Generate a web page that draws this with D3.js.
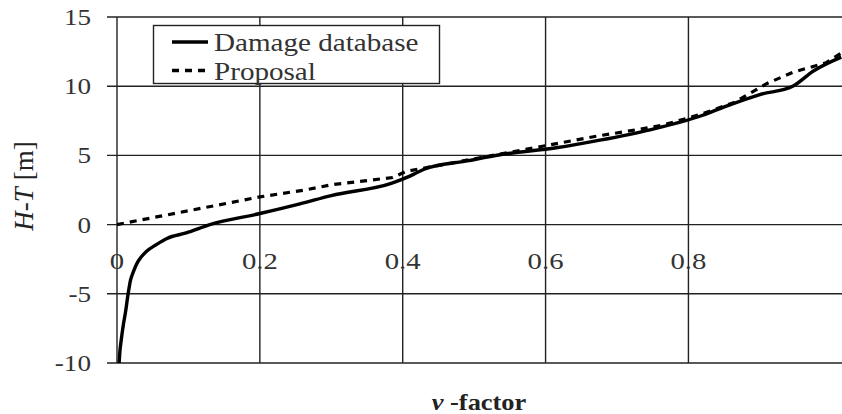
<!DOCTYPE html>
<html>
<head>
<meta charset="utf-8">
<script src="https://cdn.jsdelivr.net/npm/d3@7"></script>
<style>
  html, body { margin: 0; padding: 0; background: #fff; }
</style>
</head>
<body>
<svg id="chart" width="842" height="414"></svg>
<script>
// Data
const damageV = [0.003, 0.004, 0.006, 0.009, 0.012, 0.015, 0.019, 0.023, 0.027, 0.033, 0.041, 0.055, 0.07, 0.097, 0.13,
  0.2, 0.256, 0.3, 0.385, 0.41, 0.43, 0.49, 0.536, 0.615, 0.676, 0.746, 0.82, 0.855, 0.9, 0.946, 0.975, 1.014];
const damageH = [-10, -9.2, -8.3, -7.2, -6.3, -5.2, -4.0, -3.4, -2.9, -2.4, -1.95, -1.45, -1.0, -0.6, 0,
  0.8, 1.5, 2.1, 3.0, 3.5, 4.0, 4.6, 5.05, 5.55, 6.1, 6.85, 7.9, 8.6, 9.4, 10.0, 11.1, 12.1];

const proposalV = [0, 0.1, 0.2, 0.263, 0.303, 0.386, 0.405, 0.5, 0.6, 0.667, 0.727, 0.765, 0.816, 0.863, 0.91, 0.946, 0.993, 1.014];
const proposalH = [0, 1.0, 2.0, 2.5, 2.9, 3.4, 3.85, 4.75, 5.7, 6.35, 6.85, 7.2, 7.95, 8.8, 10.2, 11.0, 11.7, 12.4];

const xTicks = [0, 0.2, 0.4, 0.6, 0.8];
const yTicks = [-10, -5, 0, 5, 10, 15];
const seriesNames = ["Damage database", "Proposal"];

const svg = d3.select("#chart");
const margin = { top: 17, right: 0, bottom: 51, left: 117 };
const W = 842, H = 414;
const serif = "'Liberation Serif', 'Times New Roman', Times, Tinos, 'Noto Serif', 'DejaVu Serif', serif";

const x = d3.scaleLinear().domain([0, 1.015]).range([margin.left, W - margin.right]);
const y = d3.scaleLinear().domain([-10, 15]).range([H - margin.bottom, margin.top]);

const gridColor = "#222";

// horizontal grid lines with small tick stubs on the left
svg.append("g")
  .selectAll("line")
  .data(yTicks)
  .enter()
  .append("line")
  .attr("x1", margin.left - 10)
  .attr("x2", W)
  .attr("y1", d => y(d))
  .attr("y2", d => y(d))
  .attr("stroke", gridColor)
  .attr("stroke-width", 1.4);

// vertical grid lines
svg.append("g")
  .selectAll("line")
  .data(xTicks)
  .enter()
  .append("line")
  .attr("x1", d => x(d))
  .attr("x2", d => x(d))
  .attr("y1", y(15))
  .attr("y2", y(-10))
  .attr("stroke", gridColor)
  .attr("stroke-width", 1.4);

// y tick labels (source picture is stretched sideways a little)
svg.append("g")
  .selectAll("text")
  .data(yTicks)
  .enter()
  .append("text")
  .attr("transform", d => `translate(91,${y(d)}) scale(1.18,1)`)
  .attr("dy", "0.35em")
  .attr("text-anchor", "end")
  .style("font-family", serif)
  .style("font-size", "23px")
  .style("fill", "#333")
  .text(d => d);

// x tick labels sit just under the zero line
svg.append("g")
  .selectAll("text")
  .data(xTicks)
  .enter()
  .append("text")
  .attr("transform", d => `translate(${x(d)},${y(0) + 36}) scale(1.25,1)`)
  .attr("dy", "0.35em")
  .attr("text-anchor", "middle")
  .style("font-family", serif)
  .style("font-size", "23px")
  .style("fill", "#333")
  .text(d => d === 0 ? "0" : d3.format(".1f")(d));

// lines
const line = d3.line().x(d => x(d[0])).y(d => y(d[1])).curve(d3.curveMonotoneX);

svg.append("path")
  .datum(proposalV.map((v, i) => [v, proposalH[i]]))
  .attr("d", d3.line().x(d => x(d[0])).y(d => y(d[1])))
  .attr("fill", "none")
  .attr("stroke", "#000")
  .attr("stroke-width", 3.2)
  .attr("stroke-dasharray", "7,6");

svg.append("path")
  .datum(damageV.map((v, i) => [v, damageH[i]]))
  .attr("d", line)
  .attr("fill", "none")
  .attr("stroke", "#000")
  .attr("stroke-width", 3.4)
  .attr("stroke-linejoin", "round");

// legend
const legend = svg.append("g");
legend.append("rect")
  .attr("x", 153.5)
  .attr("y", 25.5)
  .attr("width", 286)
  .attr("height", 58)
  .attr("fill", "#fff")
  .attr("stroke", gridColor)
  .attr("stroke-width", 1.4);

seriesNames.forEach((name, i) => {
  const ly = 42 + i * 28.5;
  legend.append("line")
    .attr("x1", 172)
    .attr("x2", 208)
    .attr("y1", ly)
    .attr("y2", ly)
    .attr("stroke", "#000")
    .attr("stroke-width", 3.4)
    .attr("stroke-dasharray", i === 0 ? null : "7,6");
  legend.append("text")
    .attr("transform", `translate(214,${ly}) scale(1.12,1)`)
    .attr("dy", "0.35em")
    .style("font-family", serif)
    .style("font-size", "26px")
    .style("fill", "#333")
    .text(name);
});

// axis titles
const yTitle = svg.append("text")
  .attr("transform", "translate(33,186) rotate(-90)")
  .attr("text-anchor", "middle")
  .style("font-family", serif)
  .style("font-size", "27px")
  .style("fill", "#222");
yTitle.append("tspan").style("font-style", "italic").text("H-T");
yTitle.append("tspan").text(" [m]");

const xTitle = svg.append("text")
  .attr("transform", "translate(479,410) scale(1.15,1)")
  .attr("text-anchor", "middle")
  .style("font-family", serif)
  .style("font-size", "23px")
  .style("font-weight", "bold")
  .style("fill", "#222");
xTitle.append("tspan").style("font-style", "italic").text("v");
xTitle.append("tspan").text(" -factor");
</script>
</body>
</html>
